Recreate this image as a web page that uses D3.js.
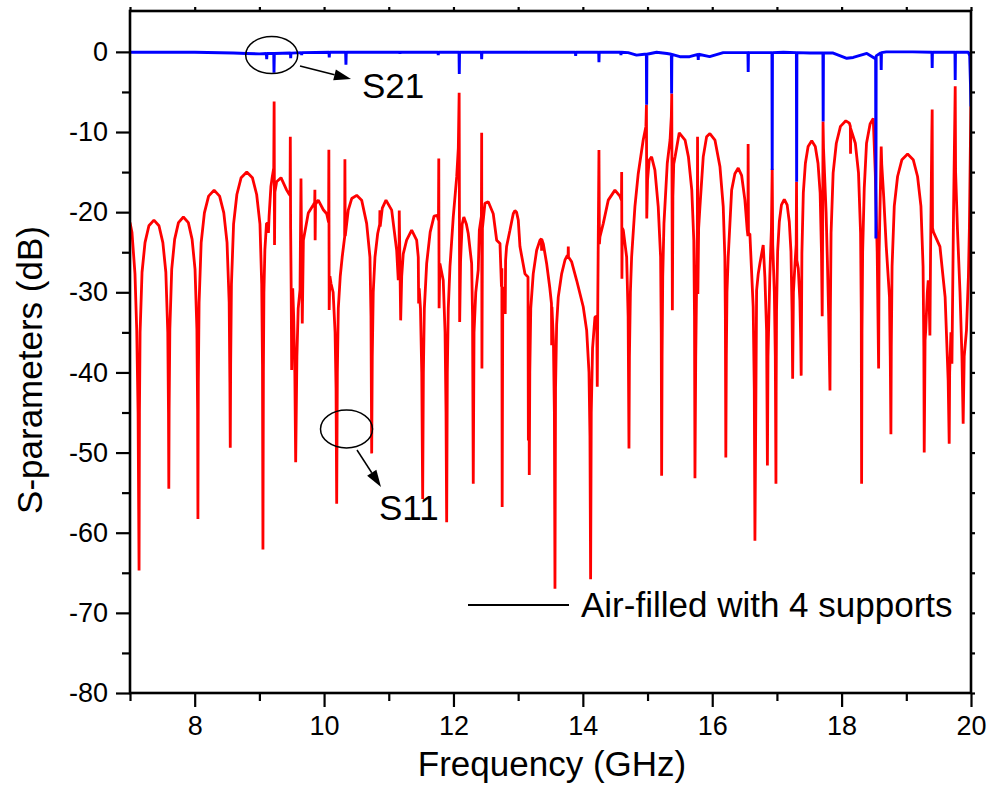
<!DOCTYPE html>
<html>
<head>
<meta charset="utf-8">
<script src="https://cdn.jsdelivr.net/npm/d3@7/dist/d3.min.js"></script>
<style>
  body { margin: 0; background: #fff; }
  svg { display: block; }
  text { font-family: "Liberation Sans", Arial, Helvetica, sans-serif; fill: #000; }
</style>
</head>
<body>
<svg id="chart" width="991" height="804"></svg>
<script>
// Axis ticks
const xMajorTicks = [8, 10, 12, 14, 16, 18, 20];
const xMinorTicks = [7, 9, 11, 13, 15, 17, 19];
const yMajorTicks = [-80, -70, -60, -50, -40, -30, -20, -10, 0];
const yMinorTicks = [-75, -65, -55, -45, -35, -25, -15, -5];

// S11 (dB) versus frequency (GHz)
const s11 = [
  [7.00,-21.3],[7.03,-22.5],[7.077,-27.7],[7.104,-34.7],[7.125,-45],[7.14,-64.7],
  [7.146,-45],[7.156,-35],[7.186,-27.5],[7.232,-23.8],[7.292,-21.7],[7.37,-21.0],[7.448,-21.7],[7.508,-23.8],[7.554,-27.5],[7.584,-35],[7.595,-45],[7.60,-54.5],
  [7.605,-44.6],[7.616,-34.6],[7.645,-27.1],[7.69,-23.4],[7.749,-21.3],[7.825,-20.6],[7.902,-21.3],[7.96,-23.4],[8.005,-27.1],[8.034,-34.6],[8.045,-44.6],[8.05,-58.3],
  [8.056,-41.3],[8.068,-31.3],[8.10,-23.8],[8.15,-20.1],[8.215,-18.0],[8.30,-17.25],[8.385,-18.0],[8.45,-20.1],[8.50,-23.8],[8.533,-31.3],[8.544,-41.3],[8.55,-49.4],
  [8.556,-39],[8.568,-29],[8.601,-21.5],[8.652,-17.8],[8.718,-15.7],[8.805,-15.0],[8.892,-15.7],[8.958,-17.8],[9.009,-21.5],[9.036,-29],[9.048,-39],[9.055,-62.1],
  [9.062,-40],[9.07,-30],[9.085,-24.7],[9.11,-21.4],[9.133,-21.4],[9.14,-22.6],[9.15,-20.5],[9.178,-16.8],[9.199,-15.6],[9.222,-14.5],[9.228,-6.2],[9.234,-24.1],[9.24,-17.5],
  [9.267,-16.2],[9.334,-15.7],[9.422,-17.25],[9.447,-17.6],[9.474,-17.9],[9.478,-10.6],[9.483,-22],[9.492,-30],[9.499,-39.7],[9.506,-31],[9.515,-29.5],[9.53,-33],[9.548,-40],[9.561,-51.2],
  [9.58,-38],[9.60,-32],[9.628,-29.7],[9.643,-15.8],[9.663,-33.9],[9.68,-23.5],[9.756,-20.1],[9.833,-19.1],[9.855,-18.8],[9.858,-17.2],[9.862,-23.5],[9.868,-19],[9.91,-18.5],
  [9.988,-19.7],[10.04,-20.2],[10.07,-21.3],[10.074,-12.2],[10.079,-32.2],[10.09,-28],[10.107,-28.9],[10.14,-30],[10.17,-35],[10.185,-42],[10.195,-56.4],
  [10.205,-40],[10.22,-32],[10.25,-28],[10.28,-25.6],[10.318,-23.1],[10.322,-13.4],[10.327,-23],[10.374,-19.75],[10.427,-18.3],[10.504,-17.9],[10.581,-18.5],[10.658,-21.4],[10.709,-25.6],[10.725,-33],[10.736,-50.1],
  [10.745,-38],[10.76,-30],[10.787,-25.6],[10.828,-22.7],[10.86,-21.5],[10.863,-19.75],[10.867,-21.8],[10.90,-19.5],[10.957,-18.5],[11.045,-19.75],[11.122,-24.75],[11.147,-28.5],[11.16,-25],[11.162,-19.8],[11.184,-33.5],[11.20,-28],
  [11.224,-25.2],[11.276,-23.5],[11.354,-22.25],[11.431,-23.5],[11.456,-25.6],[11.462,-31.4],[11.47,-29.5],[11.49,-32],[11.51,-40],[11.524,-55.8],
  [11.535,-40],[11.55,-32],[11.586,-26.4],[11.64,-22.5],[11.70,-20.5],[11.75,-20.4],[11.768,-21],[11.773,-13.3],[11.778,-32],[11.79,-26.4],[11.842,-28.5],[11.87,-35],[11.885,-45],[11.895,-58.7],
  [11.905,-40],[11.92,-32],[11.946,-26.8],[11.997,-20.6],[12.05,-15.6],[12.075,-12],[12.088,-5.1],[12.096,-33.7],[12.11,-26],[12.135,-21.5],[12.16,-20.6],[12.20,-21.5],[12.229,-22.7],[12.281,-26.4],[12.295,-33],[12.306,-53.9],
  [12.318,-35],[12.345,-30],[12.383,-27.2],[12.40,-22.25],[12.432,-20.5],[12.436,-10.1],[12.44,-39.5],[12.448,-22],[12.487,-18.9],[12.538,-18.7],[12.615,-20.2],[12.668,-23.5],[12.719,-23.9],[12.742,-29.3],[12.748,-27],[12.753,-56.8],
  [12.762,-31],[12.785,-29.3],[12.80,-32.7],[12.806,-26],[12.821,-24.3],[12.873,-22.25],[12.924,-20.2],[12.95,-19.8],[12.975,-20],[13.002,-21],[13.028,-24.3],[13.105,-27.7],[13.152,-28.1],[13.158,-48.5],[13.162,-33],[13.168,-40],[13.172,-52.8],
  [13.18,-40],[13.195,-32],[13.233,-27.7],[13.286,-24.75],[13.337,-23.5],[13.36,-23.3],[13.362,-24.8],[13.366,-23.4],[13.39,-24],[13.44,-26.4],[13.49,-29.5],[13.515,-31.4],[13.518,-36.6],[13.522,-31.8],[13.545,-36],[13.56,-45],[13.569,-67.0],
  [13.578,-42],[13.595,-34],[13.62,-30.6],[13.672,-27.7],[13.723,-26],[13.76,-25.4],[13.772,-25.4],[13.775,-24.3],[13.778,-25.6],[13.827,-26.2],[13.904,-28.5],[14.006,-31.8],[14.059,-34.75],[14.095,-40],[14.11,-48],[14.12,-65.8],
  [14.13,-45],[14.15,-37],[14.187,-33.1],[14.215,-33],[14.223,-41.8],[14.232,-30],[14.249,-12.25],[14.256,-24],[14.264,-23.1],[14.316,-21.4],[14.393,-18.5],[14.496,-17.25],[14.573,-18],[14.597,-18.5],[14.60,-15],[14.604,-28.3],[14.61,-22],[14.625,-22.25],[14.677,-25.6],[14.70,-33],[14.713,-49.5],
  [14.72,-38],[14.735,-30],[14.754,-25.6],[14.805,-19.3],[14.856,-15.2],[14.933,-11],[14.975,-9.3],[14.983,-6.6],[14.988,-20.8],[15.0,-16],[15.026,-13.5],[15.063,-13.1],[15.114,-14.75],[15.165,-19.3],[15.202,-25.6],[15.212,-35],[15.218,-52.9],
  [15.225,-38],[15.235,-28],[15.254,-21.4],[15.305,-13.9],[15.348,-11],[15.368,-8],[15.374,-5.2],[15.384,-32.25],[15.392,-18],[15.405,-14],[15.426,-13.1],[15.49,-10.1],[15.58,-11],[15.632,-13.1],[15.684,-17.25],[15.715,-23.5],[15.726,-33],[15.733,-53.2],
  [15.745,-38],[15.76,-28],[15.77,-22],[15.773,-10.6],[15.778,-30.2],[15.79,-22],[15.81,-19.3],[15.861,-13.1],[15.913,-10.6],[15.964,-10.2],[16.042,-11],[16.119,-14.3],[16.17,-19.3],[16.195,-25.6],[16.203,-33],[16.21,-50.6],
  [16.218,-38],[16.228,-30],[16.247,-25.6],[16.30,-17.25],[16.35,-15.2],[16.402,-14.5],[16.454,-15.4],[16.505,-18.5],[16.541,-22.25],[16.552,-23],[16.555,-11.5],[16.56,-22.7],[16.582,-22.7],[16.633,-31.8],[16.65,-42],[16.66,-61],
  [16.686,-29.75],[16.711,-27.7],[16.737,-26.4],[16.788,-24.1],[16.814,-28.1],[16.84,-34.75],[16.853,-51.6],
  [16.862,-38],[16.89,-28],[16.915,-22],[16.927,-14.6],[16.935,-24],[16.96,-30],[16.975,-38],[16.985,-53.9],
  [16.988,-42.4],[16.994,-32.4],[17.011,-24.9],[17.037,-21.2],[17.07,-19.1],[17.114,-18.4],[17.158,-19.1],[17.191,-21.2],[17.217,-24.9],[17.234,-32.4],[17.243,-40.8],
  [17.255,-30],[17.28,-26.4],[17.298,-24],[17.303,-16.2],[17.308,-26],[17.33,-27],[17.355,-31],[17.368,-36],[17.375,-40.4],
  [17.379,-35.1],[17.386,-25.1],[17.408,-17.6],[17.44,-13.9],[17.482,-11.8],[17.538,-11.1],[17.593,-11.8],[17.635,-13.9],[17.668,-17.6],[17.689,-25.1],[17.70,-33],
  [17.708,-20],[17.713,-8.7],[17.72,-12],[17.76,-20],[17.78,-26],[17.80,-33],[17.815,-40],[17.82,-42.25],
  [17.826,-32.6],[17.837,-22.6],[17.869,-15.1],[17.918,-11.4],[17.982,-9.3],[18.065,-8.6],[18.12,-8.9],[18.135,-9.3],[18.138,-12.7],[18.142,-9.6],[18.212,-11.4],[18.261,-15.1],[18.293,-22.6],[18.304,-32.6],[18.309,-53.9],
  [18.315,-35],[18.325,-25],[18.35,-17],[18.385,-11.4],[18.44,-9],[18.489,-8.3],[18.52,-15],[18.55,-25],[18.572,-39.5],[18.58,-25],[18.612,-11.8],[18.62,-14],[18.65,-18],[18.69,-24.3],[18.74,-30.6],[18.752,-38],[18.762,-47.7],
  [18.768,-36.75],[18.78,-26.75],[18.814,-19.25],[18.865,-15.55],[18.932,-13.45],[19.02,-12.75],[19.107,-13.45],[19.174,-15.55],[19.226,-19.25],[19.259,-26.75],[19.271,-36.75],[19.277,-50],
  [19.29,-36],[19.30,-34.75],[19.325,-30],[19.339,-28.5],[19.35,-30],[19.365,-35.4],[19.375,-25],[19.395,-10],[19.40,-7.2],[19.405,-22],[19.42,-22.5],[19.52,-24.3],[19.60,-30.6],[19.647,-41],[19.663,-48.9],
  [19.67,-40],[19.69,-35],[19.705,-38.9],[19.73,-20],[19.75,-8],[19.756,-4.3],[19.762,-15],[19.79,-22],[19.83,-30],[19.86,-38],[19.879,-46.4],
  [19.895,-38],[19.93,-34.75],[19.96,-28],[19.975,-22],[19.99,-12],[19.998,-6.8]
];

// S21 (dB) versus frequency (GHz)
const s21 = [
  [7.00,-0.05],[8.0,-0.05],[8.6,-0.15],[8.8,-0.2],[9.0,-0.25],[9.108,-0.2],[9.113,-0.9],[9.118,-0.2],
  [9.222,-0.2],[9.226,-2.6],[9.231,-0.2],[9.48,-0.15],[9.484,-0.8],[9.488,-0.15],[9.65,-0.1],[9.654,-0.4],[9.658,-0.1],
  [10.075,-0.05],[10.08,-0.7],[10.085,-0.05],[10.333,-0.05],[10.338,-1.6],[10.343,-0.05],[11.17,-0.05],[11.173,-0.25],[11.176,-0.05],
  [11.761,-0.05],[11.765,-0.4],[11.769,-0.05],[12.086,-0.05],[12.09,-2.75],[12.094,-0.05],[12.432,-0.05],[12.436,-0.9],[12.44,-0.05],
  [13.152,-0.05],[13.156,-0.2],[13.16,-0.05],[13.885,-0.05],[13.889,-0.5],[13.893,-0.05],[14.245,-0.05],[14.249,-1.3],[14.253,-0.05],
  [14.585,-0.05],[14.589,-0.4],[14.593,-0.05],[14.7,-0.1],[14.83,-0.4],[14.95,-0.3],[14.982,-0.3],[14.986,-6.6],[14.99,-0.3],
  [15.14,-0.05],[15.3,-0.2],[15.368,-0.3],[15.372,-5.2],[15.376,-0.3],[15.5,-0.6],[15.65,-0.6],[15.78,-0.3],[15.784,-1.0],[15.788,-0.3],
  [15.96,-0.6],[16.17,-0.1],[16.552,-0.1],[16.556,-2.5],[16.56,-0.1],[16.75,-0.1],[16.923,-0.1],[16.927,-14.75],[16.931,-0.1],
  [17.1,-0.05],[17.301,-0.1],[17.305,-16.2],[17.309,-0.1],[17.51,-0.15],[17.711,-0.15],[17.715,-8.7],[17.719,-0.15],[17.87,-0.15],
  [18.08,-0.8],[18.18,-0.7],[18.39,-0.2],[18.51,-0.8],[18.526,-0.9],[18.53,-23.3],[18.534,-0.5],[18.608,-0.1],[18.612,-2.25],[18.616,-0.1],
  [18.69,0],[19.1,0],[19.396,-0.05],[19.4,-2.0],[19.404,-0.05],[19.57,-0.05],[19.752,-0.05],[19.756,-3.5],[19.76,-0.05],
  [19.96,-0.05],[19.98,-0.5],[19.992,-4],[19.998,-6.8]
];

const legendLabel = "Air-filled with 4 supports";
const xTitle = "Frequency (GHz)";
const yTitle = "S-parameters (dB)";

const svg = d3.select("#chart");
const plotL = 130, plotR = 971, plotT = 11, plotB = 693;

const x = d3.scaleLinear().domain([7, 20]).range([plotL, plotR]);
const y = d3.scaleLinear().domain([-80, 5.1]).range([plotB, plotT]);

// clip region for the traces
svg.append("defs").append("clipPath").attr("id", "plotClip")
  .append("rect").attr("x", plotL).attr("y", plotT).attr("width", plotR - plotL).attr("height", plotB - plotT);

const line = d3.line().x(d => x(d[0])).y(d => y(d[1]));

const traces = svg.append("g").attr("clip-path", "url(#plotClip)");
traces.append("path").datum(s11).attr("d", line)
  .attr("fill", "none").attr("stroke", "#ff0000").attr("stroke-width", 2.8)
  .attr("stroke-linejoin", "bevel");
traces.append("path").datum(s21).attr("d", line)
  .attr("fill", "none").attr("stroke", "#0000ff").attr("stroke-width", 2.9)
  .attr("stroke-linejoin", "bevel");

// plain hyphen-minus tick labels
const plainNum = d => String(d);

function styleAxis(g) {
  g.selectAll("path.domain").remove();
  g.selectAll("line").attr("stroke", "#000").attr("stroke-width", 2.2);
  g.selectAll("text").attr("font-size", 27).attr("fill", "#000")
    .attr("font-family", "'Liberation Sans', Arial, sans-serif");
}

svg.append("g").attr("transform", `translate(0,${plotB})`)
  .call(d3.axisBottom(x).tickValues(xMajorTicks).tickSize(14).tickPadding(9).tickFormat(plainNum))
  .call(styleAxis);
svg.append("g").attr("transform", `translate(0,${plotB})`)
  .call(d3.axisBottom(x).tickValues(xMinorTicks).tickSize(8).tickFormat(""))
  .call(styleAxis);
svg.append("g").attr("transform", `translate(${plotL},0)`)
  .call(d3.axisLeft(y).tickValues(yMajorTicks).tickSize(14).tickPadding(8).tickFormat(plainNum))
  .call(styleAxis);
svg.append("g").attr("transform", `translate(${plotL},0)`)
  .call(d3.axisLeft(y).tickValues(yMinorTicks).tickSize(8).tickFormat(""))
  .call(styleAxis);
svg.append("g").attr("transform", `translate(0,${plotT})`)
  .call(d3.axisTop(x).tickValues(xMajorTicks.concat(xMinorTicks)).tickSize(4).tickFormat(""))
  .call(styleAxis);
svg.append("g").attr("transform", `translate(${plotR},0)`)
  .call(d3.axisRight(y).tickValues(yMajorTicks.concat(yMinorTicks)).tickSize(4).tickFormat(""))
  .call(styleAxis);

// frame
svg.append("rect").attr("x", plotL).attr("y", plotT).attr("width", plotR - plotL).attr("height", plotB - plotT)
  .attr("fill", "none").attr("stroke", "#000").attr("stroke-width", 2.6);

// axis titles
svg.append("text").attr("x", 552).attr("y", 776).attr("text-anchor", "middle")
  .attr("font-size", 35).text(xTitle);
svg.append("text").attr("transform", "translate(42,370) rotate(-90)").attr("text-anchor", "middle")
  .attr("font-size", 35).text(yTitle);

// legend
svg.append("line").attr("x1", 468).attr("x2", 569).attr("y1", 605).attr("y2", 605)
  .attr("stroke", "#000").attr("stroke-width", 2);
svg.append("text").attr("x", 581).attr("y", 617).attr("font-size", 35).text(legendLabel);

// callouts: ellipse, arrow and label
function callout(cx, cy, rx, ry, x1, y1, x2, y2, label, lx, ly) {
  const g = svg.append("g");
  g.append("ellipse").attr("cx", cx).attr("cy", cy).attr("rx", rx).attr("ry", ry)
    .attr("fill", "none").attr("stroke", "#000").attr("stroke-width", 1.5);
  const ang = Math.atan2(y2 - y1, x2 - x1);
  const hl = 17, hw = 5.5;
  const bx = x2 - hl * Math.cos(ang), by = y2 - hl * Math.sin(ang);
  g.append("line").attr("x1", x1).attr("y1", y1).attr("x2", bx).attr("y2", by)
    .attr("stroke", "#000").attr("stroke-width", 1.5);
  const px = -Math.sin(ang) * hw, py = Math.cos(ang) * hw;
  g.append("path").attr("d", `M${x2},${y2}L${bx + px},${by + py}L${bx - px},${by - py}Z`).attr("fill", "#000");
  g.append("text").attr("x", lx).attr("y", ly).attr("font-size", 35).text(label);
}
callout(271.7, 55, 26, 18.5, 300, 66, 351, 79, "S21", 362, 98);
callout(346.5, 429, 26, 19, 357, 450, 381, 487, "S11", 379, 520);
</script>
</body>
</html>
